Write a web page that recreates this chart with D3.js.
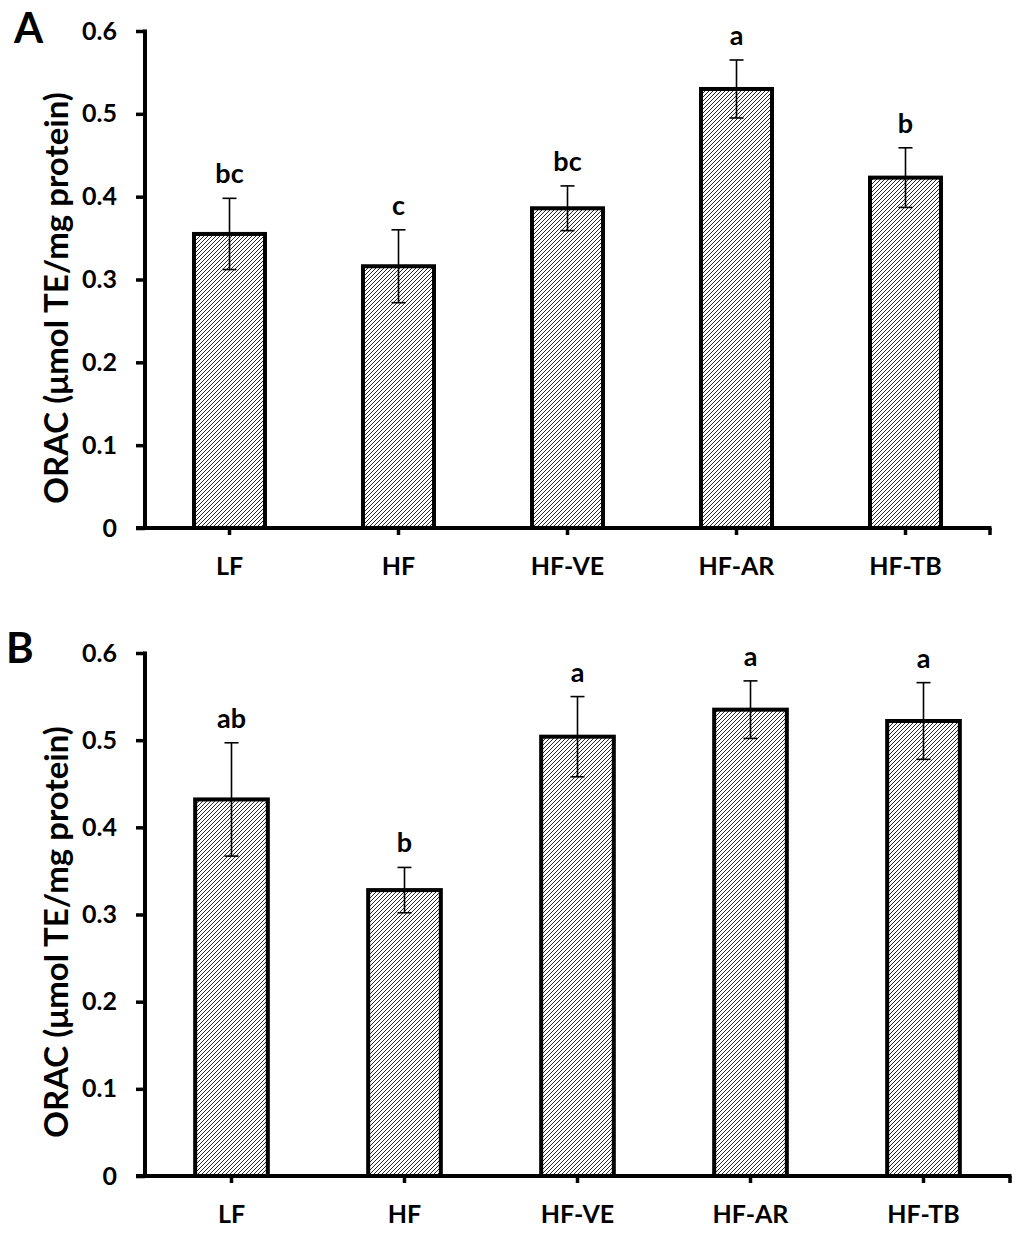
<!DOCTYPE html>
<html>
<head>
<meta charset="utf-8">
<script src="https://cdn.jsdelivr.net/npm/d3@7"></script>
<style>
  body { margin: 0; background: #fff; }
  text { font-family: Lato, "Open Sans", sans-serif; font-weight: bold; fill: #000; }
</style>
</head>
<body>
<div id="chart"></div>
<script>
const width = 1024;
const height = 1238;

// groups and values
const groups = ["LF", "HF", "HF-VE", "HF-AR", "HF-TB"];
const yTicks = [0, 0.1, 0.2, 0.3, 0.4, 0.5, 0.6];

const oracA = [0.355, 0.316, 0.386, 0.530, 0.423];
const errA = [0.043, 0.044, 0.027, 0.035, 0.036];
const lettersA = ["bc", "c", "bc", "a", "b"];

const oracB = [0.432, 0.328, 0.504, 0.535, 0.522];
const errB = [0.065, 0.026, 0.046, 0.033, 0.044];
const lettersB = ["ab", "b", "a", "a", "a"];

const svg = d3.select("#chart")
    .append("svg")
    .attr("width", width)
    .attr("height", height);

// diagonal hatch fill
const pat = svg.append("defs").append("pattern")
    .attr("id", "hatch")
    .attr("patternUnits", "userSpaceOnUse")
    .attr("width", 4)
    .attr("height", 4);
pat.append("rect").attr("width", 4).attr("height", 4).attr("fill", "#fff");
pat.append("path")
    .attr("d", "M-1,1 l2,-2 M0,4 l4,-4 M3,5 l2,-2")
    .attr("stroke", "#000")
    .attr("stroke-width", 0.85);

function drawPanel(p) {
    const g = svg.append("g");

    const x = d3.scaleBand()
        .domain(groups)
        .range([p.x0, p.x1])
        .paddingInner(0.58)
        .paddingOuter(0.29);

    const y = d3.scaleLinear()
        .domain([0, 0.6])
        .range([p.yBottom, p.yTop]);

    // bars
    g.selectAll("rect.bar")
        .data(groups)
        .enter().append("rect")
        .attr("class", "bar")
        .attr("x", d => x(d))
        .attr("width", x.bandwidth())
        .attr("y", (d, i) => y(p.values[i]))
        .attr("height", (d, i) => p.yBottom - y(p.values[i]))
        .attr("fill", "url(#hatch)")
        .attr("stroke", "#000")
        .attr("stroke-width", 4);

    // error bars
    const cx = d => x(d) + x.bandwidth() / 2;
    g.selectAll("line.err")
        .data(groups)
        .enter().append("line")
        .attr("x1", cx).attr("x2", cx)
        .attr("y1", (d, i) => y(p.values[i] + p.errors[i]))
        .attr("y2", (d, i) => y(p.values[i] - p.errors[i]))
        .attr("stroke", "#000").attr("stroke-width", 1.6);
    [1, -1].forEach(s => {
        g.selectAll(null)
            .data(groups)
            .enter().append("line")
            .attr("x1", d => cx(d) - 7).attr("x2", d => cx(d) + 7)
            .attr("y1", (d, i) => y(p.values[i] + s * p.errors[i]))
            .attr("y2", (d, i) => y(p.values[i] + s * p.errors[i]))
            .attr("stroke", "#000").attr("stroke-width", 1.6);
    });

    // significance letters
    g.selectAll("text.letter")
        .data(groups)
        .enter().append("text")
        .attr("x", cx)
        .attr("y", (d, i) => y(p.values[i] + p.errors[i]) - 15)
        .attr("text-anchor", "middle")
        .attr("font-size", 27)
        .text((d, i) => p.letters[i]);

    // y axis
    const yAxis = g.append("g")
        .attr("transform", `translate(${p.x0},0)`)
        .call(d3.axisLeft(y).tickValues(yTicks).tickSize(9).tickPadding(19)
            .tickFormat(d => d === 0 ? "0" : d3.format(".1f")(d)));
    yAxis.select(".domain").remove();
    yAxis.selectAll(".tick line").attr("stroke", "#000").attr("stroke-width", 3.5);
    yAxis.selectAll(".tick text").attr("font-size", 25).attr("fill", "#000")
        .attr("font-family", "Lato, sans-serif").attr("font-weight", "bold");
    g.append("line")
        .attr("x1", p.x0).attr("x2", p.x0)
        .attr("y1", p.yTop - 1.5).attr("y2", p.yBottom + 1.5)
        .attr("stroke", "#000").attr("stroke-width", 4);

    // x axis
    const xAxis = g.append("g")
        .attr("transform", `translate(0,${p.yBottom})`)
        .call(d3.axisBottom(x).tickSize(7).tickPadding(22));
    xAxis.select(".domain").remove();
    xAxis.selectAll(".tick line").attr("stroke", "#000").attr("stroke-width", 3.5);
    xAxis.selectAll(".tick text").attr("font-size", 25).attr("fill", "#000")
        .attr("font-family", "Lato, sans-serif").attr("font-weight", "bold");
    g.append("line")
        .attr("x1", p.x0 - 9).attr("x2", p.x1 + 1.5)
        .attr("y1", p.yBottom).attr("y2", p.yBottom)
        .attr("stroke", "#000").attr("stroke-width", 4);
    g.append("line")
        .attr("x1", p.x1).attr("x2", p.x1)
        .attr("y1", p.yBottom).attr("y2", p.yBottom + 7)
        .attr("stroke", "#000").attr("stroke-width", 3.5);

    // y title
    g.append("text")
        .attr("transform", `translate(${p.titleX},${p.titleY}) rotate(-90)`)
        .attr("text-anchor", "middle")
        .attr("font-size", 33)
        .text("ORAC (μmol TE/mg protein)");

    // panel letter
    g.append("text")
        .attr("x", p.labelX).attr("y", p.labelY)
        .attr("font-size", 42)
        .text(p.label);
}

drawPanel({
    label: "A", labelX: 14, labelY: 43,
    values: oracA, errors: errA, letters: lettersA,
    x0: 145, x1: 990, yTop: 31, yBottom: 528,
    titleX: 68, titleY: 298
});

drawPanel({
    label: "B", labelX: 6, labelY: 663,
    values: oracB, errors: errB, letters: lettersB,
    x0: 145, x1: 1010, yTop: 653, yBottom: 1176,
    titleX: 68, titleY: 932
});
</script>
</body>
</html>
